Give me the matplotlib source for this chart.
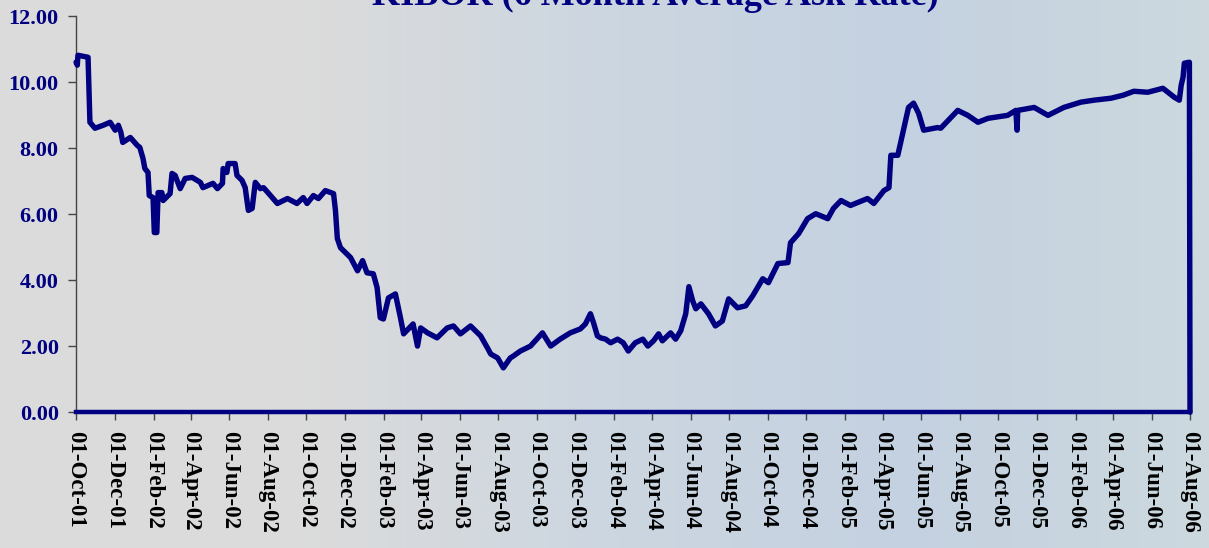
import numpy as np
import pandas as pd
import matplotlib
matplotlib.use("Agg")
import matplotlib.pyplot as plt
import matplotlib.dates as mdates

# KIBOR 6-month ask rate
dates = [
    "2001-10-01", "2001-10-03", "2001-10-04", "2001-10-20", "2001-10-23", "2001-10-31",
    "2001-11-13", "2001-11-24", "2001-12-02", "2001-12-07", "2001-12-11", "2001-12-14",
    "2001-12-26", "2002-01-06", "2002-01-10", "2002-01-15", "2002-01-18", "2002-01-23",
    "2002-01-25", "2002-01-31", "2002-02-02", "2002-02-06", "2002-02-08", "2002-02-14",
    "2002-02-16", "2002-02-27", "2002-03-02", "2002-03-07", "2002-03-15", "2002-03-23",
    "2002-04-03", "2002-04-16", "2002-04-20", "2002-05-06", "2002-05-13", "2002-05-21",
    "2002-05-22", "2002-05-28", "2002-05-30", "2002-06-10", "2002-06-13", "2002-06-21",
    "2002-06-26", "2002-07-01", "2002-07-07", "2002-07-12", "2002-07-20", "2002-07-25",
    "2002-08-01", "2002-08-16", "2002-09-01", "2002-09-16", "2002-09-26", "2002-10-02",
    "2002-10-12", "2002-10-20", "2002-10-31", "2002-11-13", "2002-11-16", "2002-11-19",
    "2002-11-24", "2002-12-02", "2002-12-10", "2002-12-21", "2002-12-29", "2003-01-05",
    "2003-01-15", "2003-01-21", "2003-01-26", "2003-01-31", "2003-02-08", "2003-02-19",
    "2003-02-27", "2003-03-04", "2003-03-19", "2003-03-26", "2003-03-31", "2003-04-11",
    "2003-04-26", "2003-05-12", "2003-05-22", "2003-06-02", "2003-06-18", "2003-07-04",
    "2003-07-15", "2003-07-20", "2003-07-31", "2003-08-09", "2003-08-20", "2003-08-25",
    "2003-09-05", "2003-09-21", "2003-10-10", "2003-10-23", "2003-11-07", "2003-11-23",
    "2003-12-09", "2003-12-17", "2003-12-25", "2003-12-30", "2004-01-05", "2004-01-10",
    "2004-01-18", "2004-01-26", "2004-02-06", "2004-02-15", "2004-02-23", "2004-03-05",
    "2004-03-17", "2004-03-25", "2004-04-03", "2004-04-11", "2004-04-17", "2004-04-30",
    "2004-05-08", "2004-05-16", "2004-05-24", "2004-05-29", "2004-06-04", "2004-06-09",
    "2004-06-17", "2004-06-29", "2004-07-10", "2004-07-21", "2004-07-31", "2004-08-14",
    "2004-08-27", "2004-09-07", "2004-09-23", "2004-10-02", "2004-10-17", "2004-11-02",
    "2004-11-06", "2004-11-19", "2004-12-03", "2004-12-16", "2005-01-04", "2005-01-13",
    "2005-01-25", "2005-02-09", "2005-03-08", "2005-03-18", "2005-04-03", "2005-04-11",
    "2005-04-14", "2005-04-25", "2005-05-04", "2005-05-12", "2005-05-20", "2005-05-28",
    "2005-06-05", "2005-06-27", "2005-07-02", "2005-07-29", "2005-08-14", "2005-08-30",
    "2005-09-15", "2005-10-16", "2005-10-29", "2005-10-31", "2005-11-01", "2005-11-27",
    "2005-12-19", "2006-01-13", "2006-02-09", "2006-03-02", "2006-03-29", "2006-04-17",
    "2006-05-04", "2006-05-26", "2006-06-19", "2006-07-07", "2006-07-15", "2006-07-18",
    "2006-07-21", "2006-07-23", "2006-07-31", "2006-08-01",
]
rates = [
    10.60, 10.51, 10.81, 10.75, 8.78, 8.60,
    8.69, 8.78, 8.54, 8.69, 8.48, 8.17,
    8.32, 8.08, 8.02, 7.69, 7.38, 7.26,
    6.56, 6.50, 5.44, 5.44, 6.65, 6.65,
    6.41, 6.62, 7.23, 7.17, 6.77, 7.08,
    7.11, 6.96, 6.80, 6.93, 6.77, 6.93,
    7.38, 7.26, 7.53, 7.53, 7.17, 7.02,
    6.80, 6.11, 6.17, 6.96, 6.77, 6.80,
    6.65, 6.32, 6.47, 6.32, 6.50, 6.32,
    6.56, 6.47, 6.71, 6.62, 6.11, 5.26,
    4.98, 4.83, 4.68, 4.28, 4.59, 4.22,
    4.19, 3.77, 2.86, 2.82, 3.46, 3.58,
    2.86, 2.37, 2.67, 2.00, 2.55, 2.40,
    2.25, 2.55, 2.61, 2.37, 2.61, 2.31,
    1.94, 1.76, 1.64, 1.34, 1.64, 1.70,
    1.85, 2.00, 2.40, 2.00, 2.21, 2.40,
    2.52, 2.67, 2.98, 2.70, 2.31, 2.25,
    2.21, 2.10, 2.21, 2.10, 1.85, 2.10,
    2.21, 2.00, 2.16, 2.37, 2.16, 2.40,
    2.21, 2.46, 2.98, 3.80, 3.37, 3.13,
    3.28, 2.98, 2.61, 2.76, 3.43, 3.16,
    3.22, 3.52, 4.04, 3.92, 4.50, 4.53,
    5.13, 5.41, 5.86, 6.01, 5.86, 6.17,
    6.41, 6.26, 6.47, 6.32, 6.71, 6.80,
    7.78, 7.78, 8.54, 9.23, 9.36, 9.05,
    8.54, 8.62, 8.60, 9.14, 8.99, 8.78,
    8.90, 8.99, 9.14, 8.54, 9.14, 9.23,
    8.99, 9.23, 9.39, 9.45, 9.51, 9.60,
    9.72, 9.69, 9.81, 9.54, 9.45, 9.90,
    10.15, 10.57, 10.60, 0.00,
]

x = pd.to_datetime(dates)
navy = "#000080"
serif = ["Liberation Serif", "DejaVu Serif"]

fig = plt.figure(figsize=(12.09, 5.48), dpi=100)

# faded photo-like backdrop: grey on the left, pale blue on the right
bg = fig.add_axes([0, 0, 1, 1], zorder=0)
grad = np.linspace(0, 1, 256)
cols = np.array([[0.86, 0.86, 0.86], [0.86, 0.86, 0.86], [0.80, 0.84, 0.88],
                 [0.77, 0.82, 0.88], [0.80, 0.85, 0.87]])
pos = np.linspace(0, 1, len(cols))
img = np.stack([np.interp(grad, pos, cols[:, k]) for k in range(3)], axis=-1)
bg.imshow(img[np.newaxis, :, :], aspect="auto", extent=[0, 1, 0, 1])
bg.axis("off")

ax = fig.add_axes([0.0629, 0.248, 0.9214, 0.7228], zorder=1)
ax.patch.set_alpha(0)
ax.plot(x, rates, color=navy, lw=3.9, solid_joinstyle="round",
        solid_capstyle="round", clip_on=False, zorder=3)

ax.set_ylim(0, 12)
ax.set_yticks(np.arange(0, 12.1, 2))
ax.yaxis.set_major_formatter(plt.FormatStrFormatter("%.2f"))
ax.set_xlim(pd.Timestamp("2001-10-01"), pd.Timestamp("2006-08-01"))
ax.xaxis.set_major_locator(mdates.MonthLocator(bymonth=[2, 4, 6, 8, 10, 12], bymonthday=1))
ax.xaxis.set_major_formatter(mdates.DateFormatter("%d-%b-%y"))

for s in ["top", "right"]:
    ax.spines[s].set_visible(False)
ax.spines["left"].set_color("#444444")
ax.spines["left"].set_linewidth(1.0)
ax.spines["bottom"].set_color(navy)
ax.spines["bottom"].set_linewidth(3.2)
ax.tick_params(axis="both", direction="out", length=5.5, width=1, color="#444444")
ax.tick_params(axis="y", pad=7)
ax.tick_params(axis="x", pad=8)

for lab in ax.get_yticklabels():
    lab.set_fontfamily(serif)
    lab.set_fontweight("bold")
    lab.set_fontsize(16)
    lab.set_color(navy)
for lab in ax.get_xticklabels():
    lab.set_fontfamily(serif)
    lab.set_fontweight("bold")
    lab.set_fontsize(16.5)
    lab.set_color("black")
    lab.set_rotation(270)
    lab.set_ha("center")
    lab.set_va("top")

fig.text(0.542, 1 - 5 / 548, "KIBOR (6 Month Average Ask Rate)", ha="center", va="baseline",
         fontsize=26, fontweight="bold", color=navy, family=serif)

fig.savefig("out.png", dpi=100)
